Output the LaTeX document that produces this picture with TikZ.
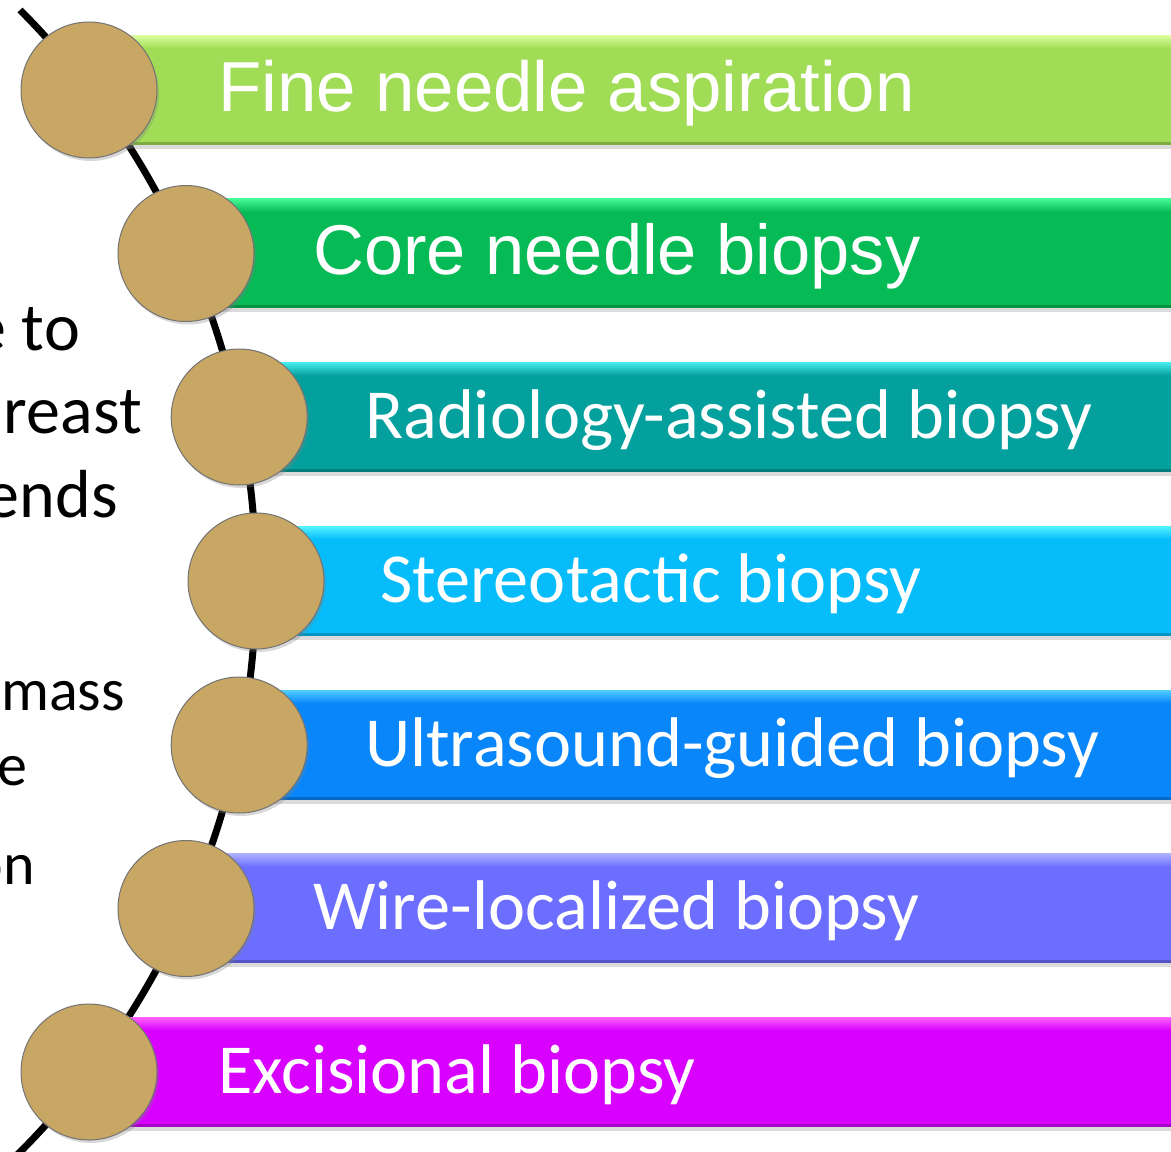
\documentclass[tikz,border=0pt]{standalone}
\usepackage{fontspec}
\newfontfamily\arialf{Liberation Sans}
\newfontfamily\calibrif{Carlito}
\usetikzlibrary{shadows,calc}
\definecolor{diskc}{HTML}{C8A664}
\definecolor{barA}{HTML}{A0DC55}\definecolor{barAl}{HTML}{DCFFA0}
\definecolor{barB}{HTML}{06BA55}\definecolor{barBl}{HTML}{45F895}
\definecolor{barC}{HTML}{04A09E}\definecolor{barCl}{HTML}{45ECEC}
\definecolor{barD}{HTML}{06BCFB}\definecolor{barDl}{HTML}{50F2FF}
\definecolor{barE}{HTML}{0886FA}\definecolor{barEl}{HTML}{50CCFF}
\definecolor{barF}{HTML}{6C6EFF}\definecolor{barFl}{HTML}{ADAFFF}
\definecolor{barG}{HTML}{D800FF}\definecolor{barGl}{HTML}{FF60FF}
\begin{document}
\begin{tikzpicture}[x=1pt,y=-1pt,
  spine/.style={line width=7pt, black},
  disk/.style={circle, minimum size=136pt, inner sep=0pt, fill=diskc, draw=black!55, line width=1pt,
    drop shadow={opacity=0.3, shadow xshift=2pt, shadow yshift=-3pt}},
  barbox/.style={rectangle, inner sep=0pt, minimum height=109pt, anchor=west, fill=#1,
    drop shadow={opacity=0.28, shadow xshift=0pt, shadow yshift=-4pt}},
  bartext/.style={text=white, anchor=base west, inner sep=0pt},
  sidetext/.style={text=black, anchor=base east, inner sep=0pt, font=\calibrif\fontsize{#1}{#1}\selectfont}
]
\useasboundingbox[fill=white] (0,0) rectangle (1171,1152);
\clip (0,0) rectangle (1171,1152);
% side text (partly cut at the left edge)
\node[sidetext=68] (s1) at (80,350) {e to};
\node[sidetext=68] (s2) at (142,433) {reast};
\node[sidetext=68] (s3) at (118,517) {ends};
\node[sidetext=60] (s4) at (125,710) {mass};
\node[sidetext=60] (s5) at (28,785) {e};
\node[sidetext=60] (s6) at (35,884) {on};
% spine
\coordinate (spinectr) at (-553,581);
\draw[spine] (spinectr) ++(-44.9:809) arc[start angle=-44.9, end angle=50, radius=809];
% bars, disks, labels
\foreach \i/\cy/\cx/\col/\lcol/\fnt/\fs/\txt/\tx in {
  1/90/89/barA/barAl/\arialf/70.8/Fine needle aspiration/218,
  2/253.5/186/barB/barBl/\arialf/70.5/Core needle biopsy/313,
  3/417/239.2/barC/barCl/\calibrif/70.3/Radiology-assisted biopsy/365,
  4/581/256/barD/barDl/\calibrif/70.3/Stereotactic biopsy/380,
  5/745/239.2/barE/barEl/\calibrif/70.3/Ultrasound-guided biopsy/365,
  6/908.5/186/barF/barFl/\calibrif/70.3/Wire-localized biopsy/313,
  7/1072/89/barG/barGl/\calibrif/70.3/Excisional biopsy/218}{
  \pgfmathsetmacro\w{1200-\cx}
  \node[barbox=\col, minimum width=\w pt] (bar\i) at (\cx,\cy) {};
  \shade[top color=\lcol, bottom color=\col] (bar\i.north west) rectangle ($(bar\i.north east)+(0,13)$);
  \fill[\col!78!black] ($(bar\i.south west)+(0,-3)$) rectangle (bar\i.south east);
  \node[disk] (d\i) at (\cx,\cy) {};
  \node[bartext, font=\fnt\fontsize{\fs}{84}\selectfont] (t\i) at (\tx,\cy+21) {\txt};
}
\end{tikzpicture}
\end{document}
